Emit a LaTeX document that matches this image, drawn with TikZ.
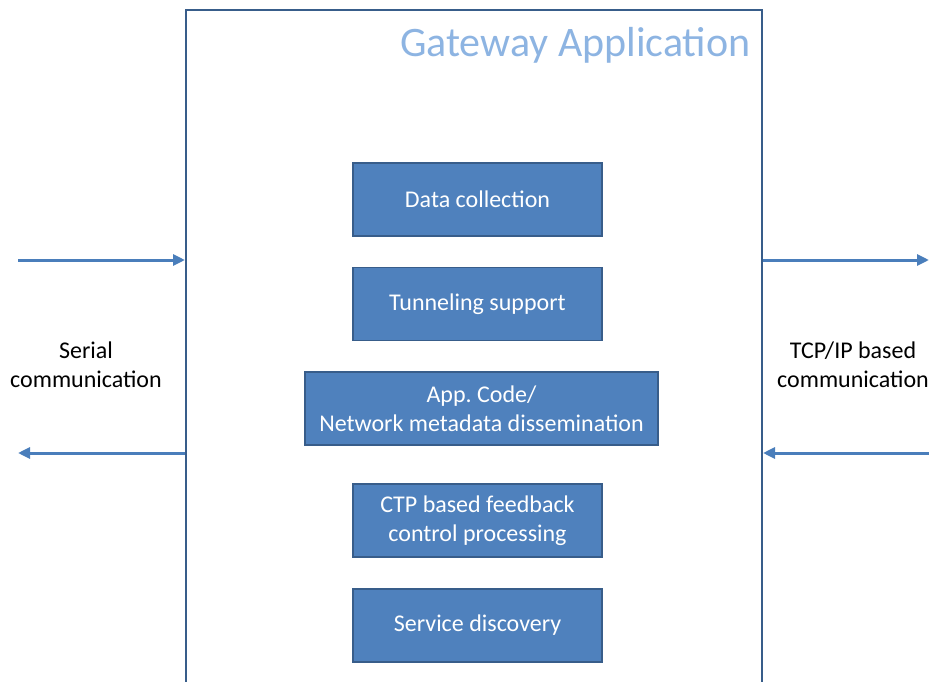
\documentclass[tikz,border=0pt]{standalone}
\usepackage{fontspec}
\setmainfont{Carlito}
\usetikzlibrary{arrows.meta}
\definecolor{boxfill}{HTML}{4F81BD}
\definecolor{boxline}{HTML}{385D8A}
\definecolor{arrowblue}{HTML}{4A7EBB}
\definecolor{titleblue}{HTML}{8DB4E2}
\tikzset{
  block/.style={rectangle,fill=boxfill,draw=boxline,line width=1.5pt,
    text=white,align=center,minimum width=249,minimum height=73,
    font=\fontsize{24}{29}\selectfont},
  flow/.style={draw=arrowblue,line width=3pt,-{Triangle[length=12pt,width=11pt]}},
  side/.style={align=center,font=\fontsize{24}{29}\selectfont}
}
\begin{document}
\begin{tikzpicture}[x=1pt,y=-1pt]
  \useasboundingbox (0,0) rectangle (929,682);

  \node[draw=boxline,line width=2pt,minimum width=576,minimum height=690,inner sep=0] (gw) at (474,355) {};
  \node[text=titleblue,anchor=east,font=\fontsize{42}{44}\selectfont] (title) at (754,45) {Gateway Application};

  \node[block] (collect) at (477.5,199.5) {Data collection};
  \node[block] (tunnel) at (477.5,304) {Tunneling support};
  \node[block,minimum width=353] (dissem) at (481.5,408.5) {App.\ Code/\\Network metadata dissemination};
  \node[block] (ctp) at (477.5,520.5) {CTP based feedback\\control processing};
  \node[block] (discover) at (477.5,625.5) {Service discovery};

  \node[side] (serial) at (86,365) {Serial\\communication};
  \node[side] (tcpip) at (853,365) {TCP/IP based\\communication};

  \coordinate (serialin) at (18,260);
  \coordinate (serialout) at (18,453);
  \coordinate (tcpout) at (929,260);
  \coordinate (tcpin) at (929,453);

  \draw[flow] (serialin) -- (serialin -| gw.west);
  \draw[flow] (serialout -| gw.west) -- (serialout);
  \draw[flow] (tcpout -| gw.east) -- (tcpout);
  \draw[flow] (tcpin) -- (tcpin -| gw.east);
\end{tikzpicture}
\end{document}
